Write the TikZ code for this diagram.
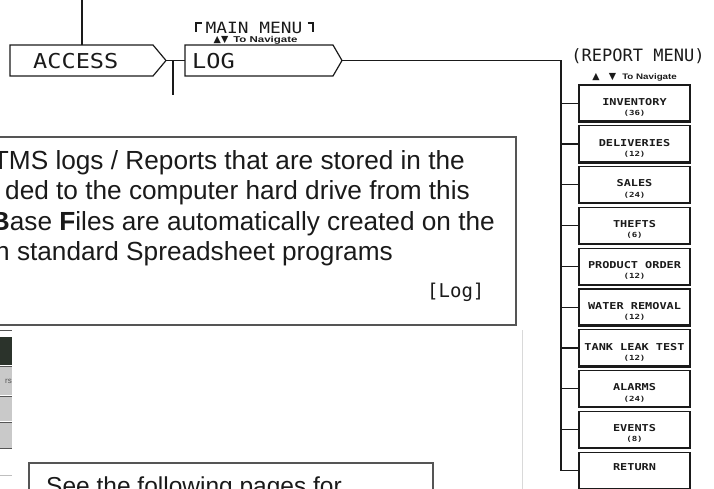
\documentclass[tikz,border=0pt]{standalone}
\usepackage{fontspec}
\setmainfont{Liberation Sans}
\newfontfamily\cad{DejaVu Sans Mono}
\newfontfamily\symf{DejaVu Sans}
\usetikzlibrary{calc}
\definecolor{ink}{HTML}{1A1A1A}
\definecolor{boxgray}{HTML}{555555}
\definecolor{darkstrip}{HTML}{2B332B}
\definecolor{rowgray}{HTML}{C9C9C9}
\tikzset{
  outline/.style={draw=ink, line width=1.2pt, line join=miter},
  cadbase/.style={inner sep=0pt, text=ink},
  cadtxt/.style={cadbase, font=\cad\fontsize{20.5}{22}\selectfont, xscale=1.15},
  menutxt/.style={cadbase, font=\cad\fontsize{15.5}{17}\selectfont, xscale=1.15},
  navtri/.style={inner sep=0pt, text=ink, font=\symf\fontsize{9.5}{10}\selectfont},
  navtxt/.style={inner sep=0pt, text=ink, font=\bfseries\fontsize{8.5}{9}\selectfont},
  rbox/.style={draw=ink, line width=1.3pt, minimum width=111pt, minimum height=36.5pt, inner sep=0pt},
  rname/.style={font=\cad\bfseries\fontsize{9.5}{10}\selectfont, inner sep=0pt, text=ink, xscale=1.25},
  rcount/.style={font=\cad\bfseries\fontsize{7}{8}\selectfont, inner sep=0pt, text=ink, xscale=1.3},
  body/.style={font=\fontsize{26.2}{30}\selectfont, inner sep=0pt, text=ink},
  tbox/.style={draw=boxgray, line width=1.7pt, inner sep=0pt},
}
\begin{document}
\begin{tikzpicture}[x=1pt,y=-1pt]
\useasboundingbox (0,0) rectangle (714,489);
\clip (0,0) rectangle (714,489);

% ACCESS
\coordinate (accTop) at (82,45);
\draw[outline] (82,0) -- (accTop);
\draw[outline] (10,45) -- (153,45) -- (166,60.5) -- (153,76) -- (10,76) -- cycle;
\coordinate (accTip) at (166,60.5);
\node[cadtxt, anchor=west] (access) at (33,61) {ACCESS};

% LOG
\draw[outline] (185,45) -- (333,45) -- (342,60.5) -- (333,76) -- (185,76) -- cycle;
\coordinate (logL) at (185,60.5);
\coordinate (logTip) at (342,60.5);
\node[cadtxt, anchor=west] (log) at (192,61) {LOG};
\coordinate (junc) at (173,60.5);
\coordinate (juncEnd) at (173,95);
\draw[outline] (accTip) -- (logL);
\draw[outline] (junc) -- (juncEnd);

% MAIN MENU title
\node[menutxt] (mainmenu) at (254,27.5) {MAIN MENU};
\draw[ink, line width=1.3pt] (196,32) -- (196,23) -- (201.5,23);
\draw[ink, line width=1.3pt] (307.5,23) -- (313,23) -- (313,32);
\node[navtri] (tri1) at (221,40) {▲\kern0.3pt▼};
\node[navtxt, anchor=west, xscale=1.35] (nav1) at (233,40) {To Navigate};

% REPORT MENU title
\node[cadbase, font=\cad\fontsize{17}{18}\selectfont] (repmenu) at (638,56.5) {(REPORT MENU)};
\node[navtri] (tri2a) at (596,77.5) {▲};
\node[navtri] (tri2b) at (612.5,77.5) {▼};
\node[navtxt, anchor=west, xscale=1.22, font=\bfseries\fontsize{8}{9}\selectfont] (nav2) at (622,77.5) {To Navigate};

% bus
\coordinate (bus) at (561,60.5);

% report boxes
\foreach \i/\nm/\ct in {0/INVENTORY/36,1/DELIVERIES/12,2/SALES/24,3/THEFTS/6,4/PRODUCT ORDER/12,5/WATER REMOVAL/12,6/TANK LEAK TEST/12,7/ALARMS/24,8/EVENTS/8}{
  \node[rbox] (b\i) at (634.5, 85+40.8*\i+18.25) {};
  \draw[ink, line width=2.4pt] ([yshift=0.6pt]b\i.south west) -- ([yshift=0.6pt]b\i.south east);
  \node[rname] (n\i) at ([yshift=-17.5pt]b\i.north) {\nm};
  \node[rcount] (c\i) at ([yshift=-29pt]b\i.north) {(\ct)};
  \draw[outline] (b\i.west) -- (b\i.west -| bus);
}
\node[rbox] (ret) at (634.5, 85+40.8*9+18.25) {};
\node[rname] (retlab) at ([yshift=-16pt]ret.north) {RETURN};
\draw[outline] (logTip) -- (bus) |- (ret.west);

% big text box
\node[tbox, anchor=north east, minimum width=530pt, minimum height=188pt] (textbox) at (517,136) {};
\node[body, anchor=base east] (l1) at (465,170) {TMS logs / Reports that are stored in the};
\node[body, anchor=base east] (l2) at (470,200) {ded to the computer hard drive from this};
\node[body, anchor=base east] (l3) at (495,230) {\textbf{B}ase \textbf{F}iles are automatically created on the};
\node[body, anchor=base east] (l4) at (393,260) {n standard Spreadsheet programs};
\node[cadbase, font=\cad\fontsize{19}{20}\selectfont, anchor=base west] (logtag) at (427,297) {[Log]};

% screenshot fragment (left)
\draw[boxgray, line width=1pt] (0,330) -- (12,330);
\fill[darkstrip] (0,337) rectangle (12,365);
\fill[rowgray] (0,366) rectangle (12,395);
\fill[rowgray] (0,397) rectangle (12,421);
\fill[rowgray] (0,423) rectangle (12,448);
\draw[boxgray, line width=0.8pt] (0,366) -- (12,366);
\draw[boxgray, line width=0.8pt] (0,396) -- (12,396);
\draw[boxgray, line width=0.8pt] (0,422) -- (12,422);
\draw[boxgray, line width=1pt] (0,448.5) -- (12,448.5);
\node[anchor=east, inner sep=0pt, text=boxgray, font=\fontsize{8}{9}\selectfont] (frag) at (12,381) {rs};
\draw[black!25, line width=0.8pt] (0,475) -- (12,475);
\draw[black!15, line width=0.8pt] (522,330) -- (522,489);

% bottom text box
\node[tbox, anchor=north west, minimum width=404pt, minimum height=60pt] (seebox) at (28,462) {};
\node[body, font=\fontsize{24.5}{28}\selectfont, anchor=base west] (see) at (46,494.5) {See the following pages for};
\end{tikzpicture}
\end{document}
